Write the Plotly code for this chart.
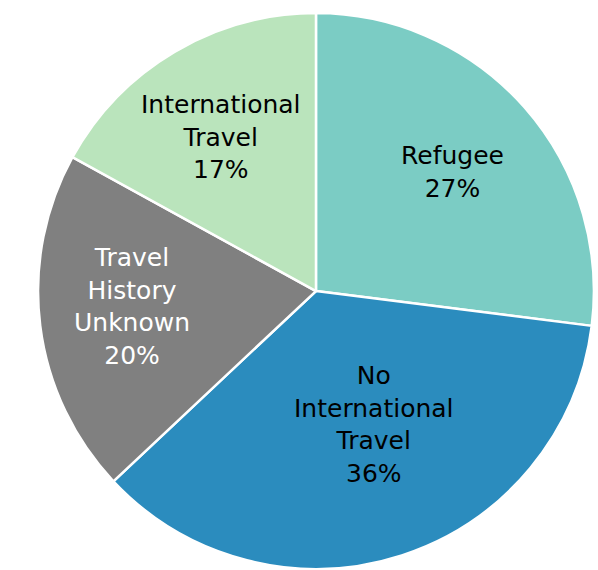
import plotly.graph_objects as go

labels = ["Refugee", "No<br>International<br>Travel", "Travel<br>History<br>Unknown", "International<br>Travel"]
values = [27, 36, 20, 17]
colors = ["#7bccc4", "#2b8cbe", "#808080", "#bae4bc"]
text_colors = ["#000000", "#000000", "#ffffff", "#000000"]
# label anchor positions (paper coordinates)
label_x = [0.756, 0.625, 0.221, 0.369]
label_y = [0.698, 0.256, 0.463, 0.760]

fig = go.Figure(go.Pie(
    labels=labels,
    values=values,
    sort=False,
    direction="clockwise",
    rotation=0,
    marker=dict(colors=colors, line=dict(color="white", width=2.5)),
    textinfo="none",
    domain=dict(x=[0.0635, 0.9933], y=[0.0018, 0.977]),
    hoverinfo="skip",
))
total = sum(values)
for lab, v, c, x, y in zip(labels, values, text_colors, label_x, label_y):
    fig.add_annotation(
        x=x, y=y, xref="paper", yref="paper",
        xanchor="center", yanchor="middle",
        text=f"{lab}<br>{round(100 * v / total)}%",
        showarrow=False, align="center",
        font=dict(family="DejaVu Sans", size=25, color=c),
    )
fig.update_layout(
    width=598, height=570,
    margin=dict(l=0, r=0, t=0, b=0),
    paper_bgcolor="white",
    showlegend=False,
)
fig.write_html("out.html")
